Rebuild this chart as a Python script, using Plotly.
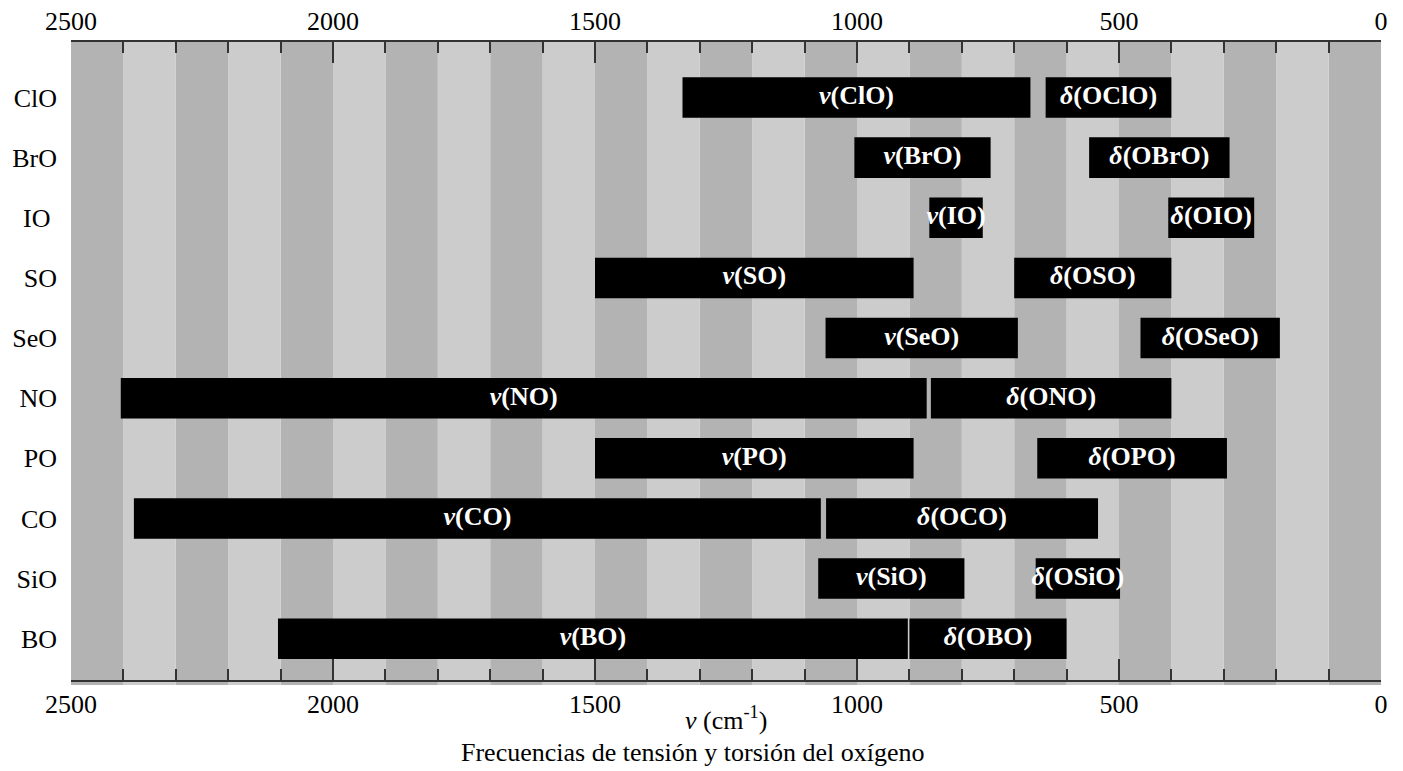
import plotly.graph_objects as go

# ---------------- data ----------------
categories = ["ClO", "BrO", "IO", "SO", "SeO", "NO", "PO", "CO", "SiO", "BO"]
tick_labels = ["ClO", "BrO", "IO\u00a0", "SO", "SeO", "NO", "PO", "CO", "SiO", "BO"]

# stretching ν(XO) band: high and low wavenumber limits (cm-1)
nu_high = [1333, 1005, 862, 1500, 1060, 2405, 1500, 2380, 1074, 2105]
nu_low = [669, 745, 760, 892, 693, 867, 892, 1069, 795, 903]

# bending δ(OXO) band: high and low wavenumber limits (cm-1)
delta_high = [640, 557, 406, 700, 459, 859, 656, 1059, 659, 900]
delta_low = [400, 289, 242, 400, 193, 400, 294, 540, 498, 600]

x_max = 2500
stripe_step = 100
major_step = 500

FONT = "Liberation Serif"

fig = go.Figure()

# background stripes every 100 cm-1
n_stripes = x_max // stripe_step
for k in range(n_stripes):
    fig.add_shape(
        type="rect", xref="x", yref="paper",
        x0=k * stripe_step, x1=(k + 1) * stripe_step, y0=-0.008, y1=1,
        fillcolor="#b3b3b3" if k % 2 == 0 else "#cccccc",
        line=dict(width=0), layer="below",
    )

bar_width = 0.674
fig.add_trace(go.Bar(
    orientation="h", y=categories,
    base=nu_low, x=[h - l for h, l in zip(nu_high, nu_low)],
    marker=dict(color="black", line=dict(width=0)), width=bar_width,
    hoverinfo="skip", showlegend=False,
))
fig.add_trace(go.Bar(
    orientation="h", y=categories,
    base=delta_low, x=[h - l for h, l in zip(delta_high, delta_low)],
    marker=dict(color="black", line=dict(width=0)), width=bar_width,
    hoverinfo="skip", showlegend=False,
))

# labels centred on each band (drawn on the top axis, same scale)
lab_x = [(h + l) / 2 for h, l in zip(nu_high, nu_low)] + \
        [(h + l) / 2 for h, l in zip(delta_high, delta_low)]
lab_y = categories + categories
lab_t = [f"<b><i>ν</i>({c})</b>" for c in categories] + \
        [f"<b><i>δ</i>(O{c[:-1]}O)</b>" for c in categories]
fig.add_trace(go.Scatter(
    x=lab_x, y=lab_y, text=lab_t, mode="text", xaxis="x2", yaxis="y",
    textfont=dict(family=FONT, size=26, color="white"),
    textposition="middle center", hoverinfo="skip", showlegend=False,
))

axis_common = dict(
    range=[x_max, 0], showline=True, linecolor="#333", linewidth=1.5,
    ticks="inside", ticklen=21, tickwidth=1.5, tickcolor="#333",
    tick0=0, dtick=major_step, showgrid=False, zeroline=False, automargin=False,
    tickfont=dict(family=FONT, size=26, color="black"),
    minor=dict(dtick=stripe_step, tick0=0, ticks="inside", ticklen=11,
               tickwidth=1.5, tickcolor="#333", showgrid=False),
)

fig.update_layout(
    width=1403, height=771, autosize=False,
    margin=dict(l=71, r=22, t=42, b=91, pad=0),
    paper_bgcolor="white", plot_bgcolor="white",
    barmode="overlay",
    font=dict(family=FONT, size=26, color="black"),
    xaxis=dict(side="bottom", ticklabelstandoff=0, **axis_common),
    xaxis2=dict(side="top", overlaying="x", anchor="y", ticklabelstandoff=0, **axis_common),
    yaxis=dict(
        type="category", categoryorder="array", categoryarray=categories[::-1],
        tickvals=categories, ticktext=tick_labels,
        range=[-0.687, 9.923], showline=False, ticks="", showgrid=False,
        zeroline=False, ticklabelstandoff=13, automargin=False,
        tickfont=dict(family=FONT, size=26, color="black"),
    ),
    annotations=[
        dict(text="<i>ν</i> (cm<sup>-1</sup>)", xref="paper", yref="paper",
             x=0.5, y=-0.061, xanchor="center", yanchor="middle", showarrow=False,
             font=dict(family=FONT, size=26, color="black")),
        dict(text="Frecuencias de tensión y torsión del oxígeno", xref="paper", yref="paper",
             x=0.4748, y=-0.113, xanchor="center", yanchor="middle", showarrow=False,
             font=dict(family=FONT, size=26, color="black")),
    ],
)

fig.write_html("out.html", config={"displayModeBar": False},
               post_script="document.body.style.margin='0';")
